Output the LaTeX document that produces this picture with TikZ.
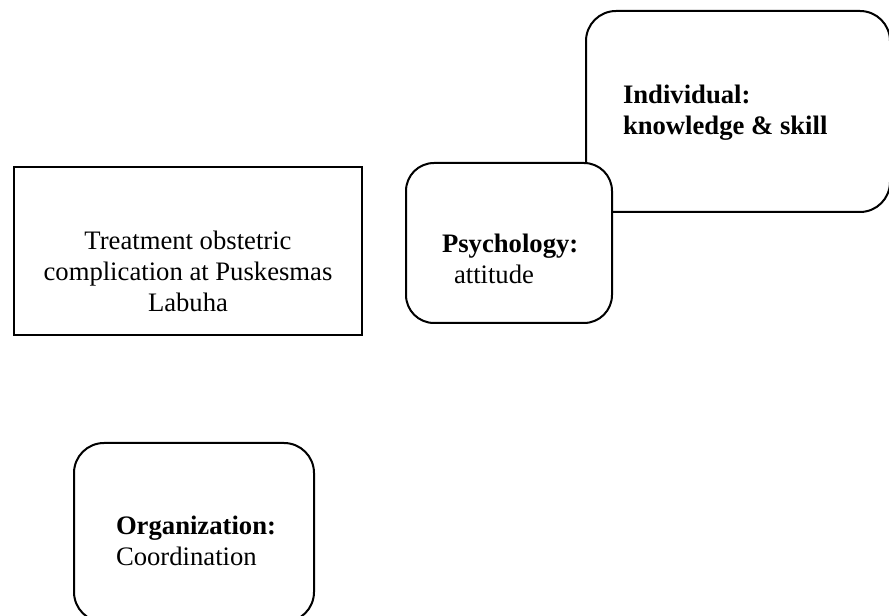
\documentclass[tikz,border=0pt]{standalone}
\usepackage{fontspec}
\setmainfont{Liberation Serif}
\usetikzlibrary{positioning}

\tikzset{every picture/.style={line width=1.5pt}}
\tikzset{
  squarebox/.style={draw, inner sep=0pt},
  roundbox/.style={draw, fill=white, rounded corners=22.5pt, inner sep=0pt},
  boxtext/.style={inner sep=0pt, font=\fontsize{20}{23.25}\selectfont}
}

\begin{document}
\begin{tikzpicture}[x=0.75pt,y=0.75pt,yscale=-1,xscale=1]
\useasboundingbox (0,0) rectangle (889,616);
\clip (0,0) rectangle (889,616);

%Shape: Rectangle [treatment]
\node [squarebox, minimum width=261pt, minimum height=126pt] (treat) at (188,251) {};
%Shape: Rounded Rectangle [individual]
\node [roundbox, minimum width=228pt, minimum height=150.75pt] (indiv) at (738,111.5) {};
%Shape: Rounded Rectangle [psychology]
\node [roundbox, rounded corners=21pt, minimum width=154.5pt, minimum height=120pt] (psych) at (509,243) {};
%Shape: Rounded Rectangle [organization]
\node [roundbox, minimum width=180pt, minimum height=134.25pt] (organ) at (194,532.5) {};

% Text Node
\node [boxtext, anchor=base, align=center] (treattext) at (188,312) {Treatment obstetric\\complication at Puskesmas\\Labuha};
% Text Node
\node [boxtext, anchor=base west, align=left] (indivtext) at (622,135) {\textbf{Individual:}\\\textbf{knowledge \& skill}};
% Text Node
\node [boxtext, anchor=base west, align=left] (psychtext) at (441,284) {\textbf{Psychology:}\\\hspace*{9pt}attitude};
% Text Node
\node [boxtext, anchor=base west, align=left] (organtext) at (115,565) {\textbf{Organization:}\\Coordination};

\end{tikzpicture}
\end{document}
